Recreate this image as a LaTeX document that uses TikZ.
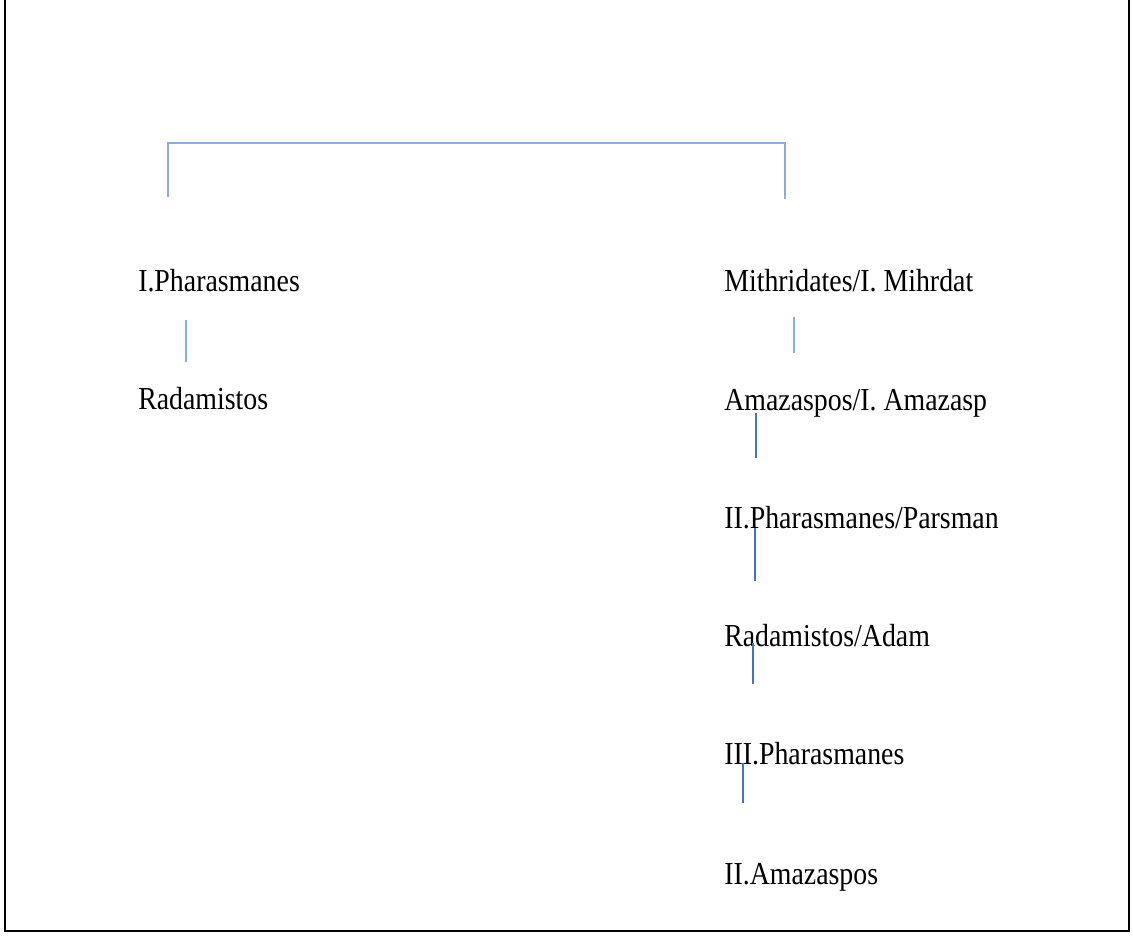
\documentclass[tikz,border=0pt]{standalone}
\usepackage{fontspec}
\usepackage{xcolor}
\newfontfamily\namefont[FakeStretch=0.87]{Liberation Serif}
\definecolor{palelink}{HTML}{8FAADC}
\definecolor{deeplink}{HTML}{4472C4}

\begin{document}
\begin{tikzpicture}[x=0.75pt,y=-0.75pt,
    king/.style={anchor=base west, inner sep=0pt, font=\namefont\fontsize{24}{28}\selectfont},
    pale/.style={draw=palelink, line width=1.5pt},
    deep/.style={draw=deeplink, line width=1.5pt}]
    \useasboundingbox (0,0) rectangle (1133,936);
    \draw[line width=2.2pt] (5,0) -- (5,931) -- (1129,931) -- (1129,0);

    % two lines of kings
    \node[king] (phI)  at (138,291) {I.Pharasmanes};
    \node[king] (rad)  at (138,409) {Radamistos};
    \node[king] (mih)  at (724,291) {Mithridates/I. Mihrdat};
    \node[king] (amzI) at (724,410) {Amazaspos/I. Amazasp};
    \node[king] (phII) at (724,528) {II.Pharasmanes/Parsman};
    \node[king] (adam) at (724,646) {Radamistos/Adam};
    \node[king] (phIII) at (724,764) {III.Pharasmanes};
    \node[king] (amzII) at (724,884) {II.Amazaspos};

    % bracket over both lines
    \coordinate (top) at (0,143);
    \coordinate (left foot) at (168,197);
    \coordinate (right foot) at (785,199);
    \draw[pale] (left foot) -- (left foot |- top) -| (right foot);

    % short strokes
    \coordinate (s1) at (186,320);  \coordinate (e1) at (186,362);
    \coordinate (s2) at (794,317);  \coordinate (e2) at (794,353);
    \coordinate (s3) at (756,413);  \coordinate (e3) at (756,458);
    \coordinate (s4) at (755,528);  \coordinate (e4) at (755,581);
    \coordinate (s5) at (753,643);  \coordinate (e5) at (753,684);
    \coordinate (s6) at (743,763);  \coordinate (e6) at (743,803);
    \draw[pale] (s1) -- (e1);
    \draw[pale] (s2) -- (e2);
    \foreach \i in {3,...,6}
        \draw[deep] (s\i) -- (e\i);
\end{tikzpicture}
\end{document}
